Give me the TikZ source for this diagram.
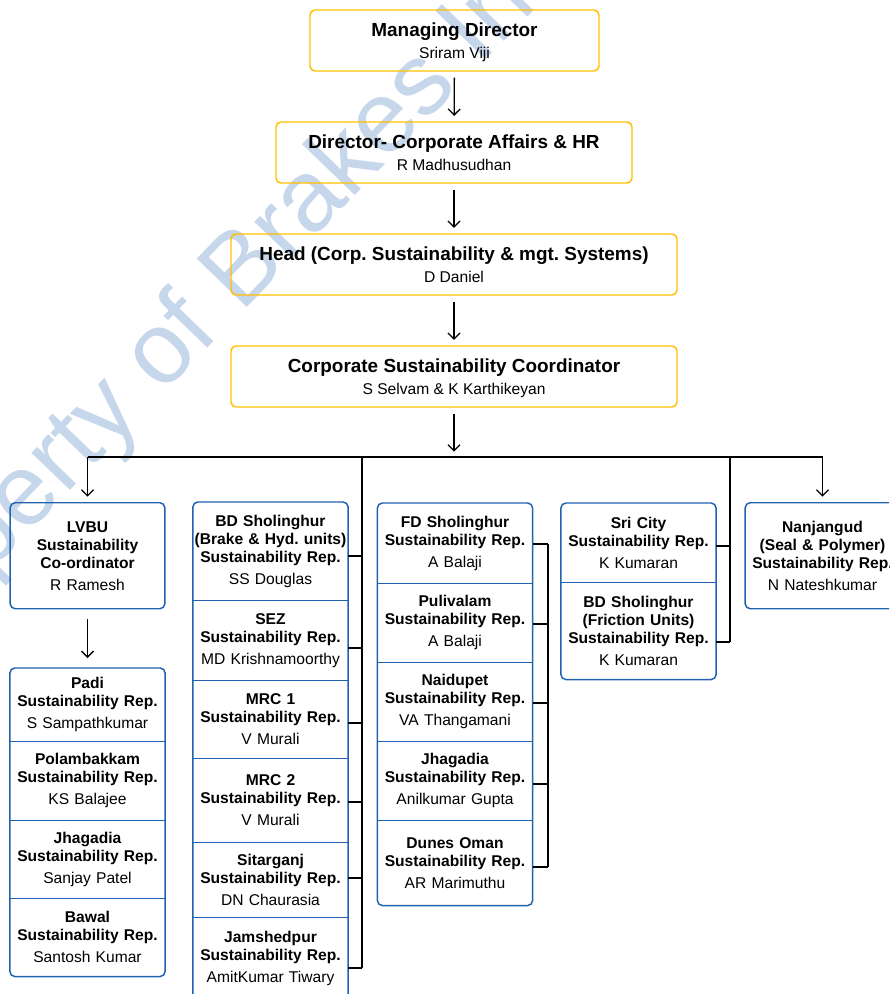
\documentclass[tikz,border=0pt]{standalone}
\usepackage{fontspec}
\setmainfont{Liberation Sans}
\usepackage{tikz}
\usetikzlibrary{arrows.meta}
\definecolor{gold}{RGB}{255,192,0}
\definecolor{navy}{RGB}{33,98,176}
\definecolor{mark}{RGB}{198,214,235}

\tikzset{
  topbox/.style={draw=gold, line width=1.1pt, rounded corners=3.75pt, align=center, inner sep=0pt, text depth=-1pt, minimum height=45.75pt, font=\fontsize{11.7}{17}\selectfont\frenchspacing},
  unit/.style={align=center, inner xsep=1pt, inner ysep=0pt, text width=114pt, font=\fontsize{11.7}{13.5}\selectfont\frenchspacing},
  unitbox/.style={unit, anchor=north, draw=navy, line width=1.1pt, rounded corners=3.75pt, minimum height=79.5pt},
  site/.style={unit, anchor=north, minimum height=#1},
  rule/.style={draw=navy, line width=1.1pt},
  link/.style={line width=1pt, -{Straight Barb[length=4.5pt,width=9pt]}, shorten <=4.5pt, shorten >=4pt},
  bus/.style={line width=1.3pt}
}

\begin{document}
\begin{tikzpicture}[x=0.75pt,y=0.75pt,yscale=-1]
\useasboundingbox (0,0) rectangle (889,994);
\clip (0,0) rectangle (889,994);

% watermark
\node[rotate=46, text=mark, font=\fontsize{76}{80}\selectfont] (wm) at (236,281) {Property of Brakes India};

% top of the chart
\node[topbox, minimum width=216.75pt] (md) at (454.5,40.5) {{\fontsize{14.2}{17}\selectfont\bfseries Managing Director}\\Sriram Viji};
\node[topbox, minimum width=267pt] (dir) at (454,152.5) {{\fontsize{14.2}{17}\selectfont\bfseries Director- Corporate Affairs \& HR}\\R Madhusudhan};
\node[topbox, minimum width=334.5pt] (head) at (454,264.5) {{\fontsize{14.2}{17}\selectfont\bfseries Head (Corp. Sustainability \& mgt. Systems)}\\D Daniel};
\node[topbox, minimum width=334.5pt] (csc) at (454,376.5) {{\fontsize{14.2}{17}\selectfont\bfseries Corporate Sustainability Coordinator}\\S Selvam \& K Karthikeyan};

\draw[link] (md) -- (dir);
\draw[link] (dir) -- (head);
\draw[link] (head) -- (csc);

% column 1
\node[unitbox] (lvbu) at (87.5,502) {{\bfseries LVBU\\Sustainability\\Co-ordinator}\\[3pt]R Ramesh};
\node[site=54.75pt] (padi) at (87.5,668) {{\bfseries Padi\\Sustainability Rep.}\\[3pt]S Sampathkumar};
\node[site=59.25pt] (polam) at (87.5,741) {{\bfseries Polambakkam\\Sustainability Rep.}\\[3pt]KS Balajee};
\node[site=58.5pt] (jhag1) at (87.5,820) {{\bfseries Jhagadia\\Sustainability Rep.}\\[3pt]Sanjay Patel};
\node[site=58.5pt] (bawal) at (87.5,898) {{\bfseries Bawal\\Sustainability Rep.}\\[3pt]Santosh Kumar};

% column 2
\node[site=73.5pt] (bd) at (270.5,502) {{\bfseries BD Sholinghur\\(Brake \& Hyd. units)\\Sustainability Rep.}\\[3pt]SS Douglas};
\node[site=60pt] (sez) at (270.5,600) {{\bfseries SEZ\\Sustainability Rep.}\\[3pt]MD Krishnamoorthy};
\node[site=58.5pt] (mrc1) at (270.5,680) {{\bfseries MRC 1\\Sustainability Rep.}\\[3pt]V Murali};
\node[site=63pt] (mrc2) at (270.5,758) {{\bfseries MRC 2\\Sustainability Rep.}\\[3pt]V Murali};
\node[site=56.25pt] (sitar) at (270.5,842) {{\bfseries Sitarganj\\Sustainability Rep.}\\[3pt]DN Chaurasia};
\node[site=62.25pt] (jamshed) at (270.5,917) {{\bfseries Jamshedpur\\Sustainability Rep.}\\[3pt]AmitKumar Tiwary};

% column 3
\node[site=60pt] (fd) at (455,503) {{\bfseries FD Sholinghur\\Sustainability Rep.}\\[3pt]A Balaji};
\node[site=59.25pt] (puli) at (455,583) {{\bfseries Pulivalam\\Sustainability Rep.}\\[3pt]A Balaji};
\node[site=59.25pt] (naidu) at (455,662) {{\bfseries Naidupet\\Sustainability Rep.}\\[3pt]VA Thangamani};
\node[site=59.25pt] (jhag2) at (455,741) {{\bfseries Jhagadia\\Sustainability Rep.}\\[3pt]Anilkumar Gupta};
\node[site=63.75pt] (dunes) at (455,820) {{\bfseries Dunes Oman\\Sustainability Rep.}\\[3pt]AR Marimuthu};

% column 4
\node[site=59.25pt] (sricity) at (638.5,503) {{\bfseries Sri City\\Sustainability Rep.}\\[3pt]K Kumaran};
\node[site=72.75pt] (bdfric) at (638.5,582) {{\bfseries BD Sholinghur\\(Friction Units)\\Sustainability Rep.}\\[3pt]K Kumaran};

% column 5
\node[unitbox] (nanj) at (822.5,502) {{\bfseries Nanjangud\\(Seal \& Polymer)\\Sustainability Rep.}\\[3pt]N Nateshkumar};

% frames round the stacked units
\draw[rule, rounded corners=3.75pt] (padi.north west) rectangle (bawal.south east);
\draw[rule, rounded corners=3.75pt] (bd.north west) rectangle (jamshed.south east);
\draw[rule, rounded corners=3.75pt] (fd.north west) rectangle (dunes.south east);
\draw[rule, rounded corners=3.75pt] (sricity.north west) rectangle (bdfric.south east);
\foreach \a in {padi,polam,jhag1,bd,sez,mrc1,mrc2,sitar,fd,puli,naidu,jhag2,sricity}
  \draw[rule] (\a.south west) -- (\a.south east);

% bus and brackets
\coordinate (bus) at (454,457);
\coordinate (br2) at (362,457);
\coordinate (br3) at (548,457);
\coordinate (br4) at (730,457);
\draw[link] (csc) -- (bus);
\draw[bus] (lvbu.north |- bus) -- (nanj.north |- bus);
\draw[link, shorten <=0pt] (lvbu.north |- bus) -- (lvbu);
\draw[link, shorten <=0pt] (nanj.north |- bus) -- (nanj);
\draw[link, shorten <=7.5pt, shorten >=7.5pt] (lvbu) -- (padi);

\foreach \n/\d in {bd/5,sez/8,mrc1/4,mrc2/2,sitar/-1.5,jamshed/9.5}
  \draw[bus] (\n.east) ++(0,\d) coordinate (s-\n) -- (s-\n -| br2);
\draw[bus] (br2) -- (s-jamshed -| br2);

\foreach \n/\d in {fd/1,puli/1.5,naidu/1.5,jhag2/3.5,dunes/4.5}
  \draw[bus] (\n.east) ++(0,\d) coordinate (s-\n) -- (s-\n -| br3);
\draw[bus] (s-fd -| br3) -- (s-dunes -| br3);

\foreach \n/\d in {sricity/3.5,bdfric/11.5}
  \draw[bus] (\n.east) ++(0,\d) coordinate (s-\n) -- (s-\n -| br4);
\draw[bus] (br4) -- (s-bdfric -| br4);
\end{tikzpicture}
\end{document}
